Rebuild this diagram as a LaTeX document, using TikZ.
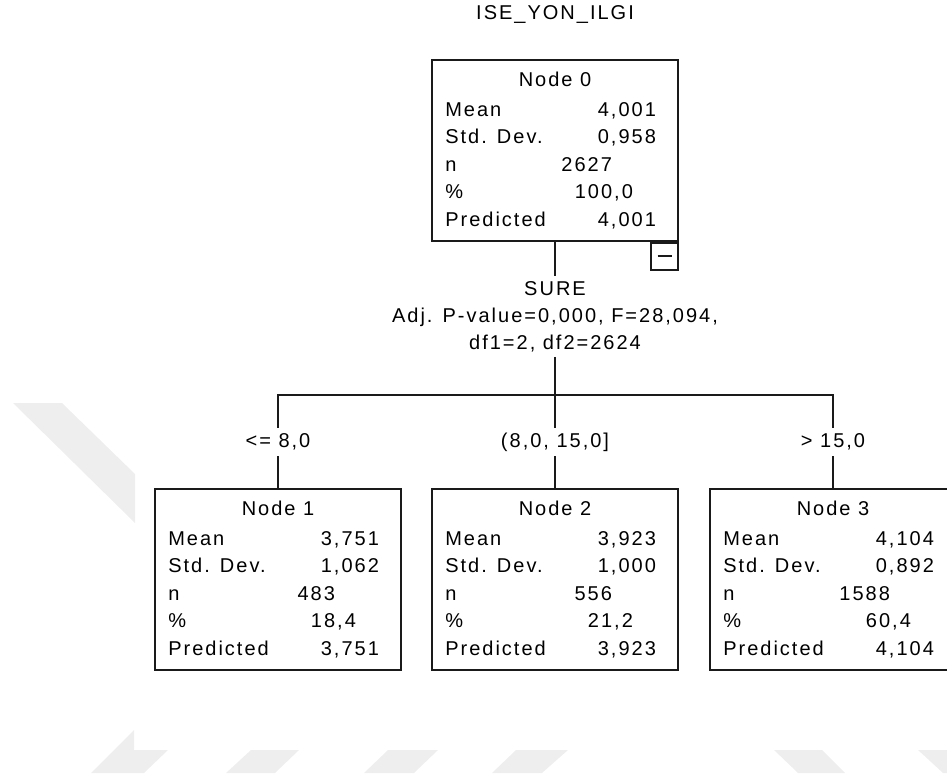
\documentclass[tikz,border=0pt]{standalone}
\usepackage{fontspec}
\setmainfont{Liberation Sans}[LetterSpace=10]
\usetikzlibrary{positioning, calc}
\definecolor{wmGray}{HTML}{EEEEEE}
\definecolor{lineDark}{HTML}{1A1A1A}
\tikzset{
  link/.style={draw=lineDark, line width=1.8pt},
  treebox/.style={rectangle, draw=lineDark, line width=1.8pt, fill=white,
                  minimum width=246pt, minimum height=181pt, inner sep=0pt},
  togbox/.style={rectangle, draw=lineDark, line width=1.8pt, fill=white,
                 minimum size=27pt, inner sep=0pt},
  hdr/.style={anchor=base, inner sep=0pt},
  rowlbl/.style={anchor=base west, inner sep=0pt},
  rowval/.style={anchor=base east, inner sep=0pt},
  cond/.style={inner sep=5pt, text height=14pt, text depth=4pt},
  split/.style={align=center, inner sep=5pt},
  wmark/.style={fill=wmGray, draw=none},
}

\begin{document}
\begin{tikzpicture}[x=1pt, y=-1pt, font=\fontsize{20}{27}\selectfont]
  \clip (0,0) rectangle (947,783);

  % faint watermark
  \fill[wmark] (13,403) -- (62,403) -- (135,474) -- (135,523) -- cycle;
  \fill[wmark] (91,773) -- (134,730) -- (134,750) -- (168,750) -- (144,773) -- cycle;
  \fill[wmark] (226,773) -- (251,750) -- (299,750) -- (275,773) -- cycle;
  \fill[wmark] (364,773) -- (388,750) -- (438,750) -- (414,773) -- cycle;
  \fill[wmark] (492,773) -- (516,750) -- (568,750) -- (542,773) -- cycle;
  \fill[wmark] (774,750) -- (822,750) -- (845,773) -- (798,773) -- cycle;
  \fill[wmark] (918,750) -- (970,750) -- (995,773) -- (943,773) -- cycle;

  % root
  \node (title) at (555,15) {ISE\_YON\_ILGI};
  \node[treebox] (n0) at (555,150.5) {};
  \node[togbox, anchor=north east] (tog) at (n0.south east) {};
  \draw[link] ([xshift=-7pt]tog.center) -- ([xshift=7pt]tog.center);

  % split
  \node[split, below=34pt of n0] (split)
       {SURE\\Adj. P-value=0,000, F=28,094,\\df1=2, df2=2624};
  \coordinate (bar) at (555,395);
  \draw[link] (n0) -- (split);
  \draw[link] (split) -- (bar);

  % conditions
  \node[cond] (c1) at (278,442) {<= 8,0};
  \node[cond] (c2) at (555,442) {(8,0, 15,0]};
  \node[cond] (c3) at (833,442) {> 15,0};
  \draw[link] (c1) |- (bar) -| (c3);
  \draw[link] (bar) -- (c2);

  % children
  \node[treebox, below=32pt of c1] (n1) {};
  \node[treebox, below=32pt of c2] (n2) {};
  \node[treebox, below=32pt of c3] (n3) {};
  \draw[link] (c1) -- (n1);
  \draw[link] (c2) -- (n2);
  \draw[link] (c3) -- (n3);

  % box contents
  \foreach \b/\ttl/\mn/\sd/\nn/\pc in {
      n0/Node 0/{4,001}/{0,958}/2627/{100,0},
      n1/Node 1/{3,751}/{1,062}/483/{18,4},
      n2/Node 2/{3,923}/{1,000}/556/{21,2},
      n3/Node 3/{4,104}/{0,892}/1588/{60,4}}{
    \node[hdr] (\b-t) at ($(\b.north)+(0,27)$) {\ttl};
    \node[rowlbl] (\b-l1) at ($(\b.north west)+(14,57)$) {Mean};
    \node[rowlbl] (\b-l2) at ($(\b.north west)+(14,84.5)$) {Std. Dev.};
    \node[rowlbl] (\b-l3) at ($(\b.north west)+(14,112)$) {n};
    \node[rowlbl] (\b-l4) at ($(\b.north west)+(14,139.5)$) {\%};
    \node[rowlbl] (\b-l5) at ($(\b.north west)+(14,167)$) {Predicted};
    \node[rowval] (\b-v1) at ($(\b.north west)+(225,57)$) {\mn};
    \node[rowval] (\b-v2) at ($(\b.north west)+(225,84.5)$) {\sd};
    \node[rowval] (\b-v3) at ($(\b.north west)+(181,112)$) {\nn};
    \node[rowval] (\b-v4) at ($(\b.north west)+(202,139.5)$) {\pc};
    \node[rowval] (\b-v5) at ($(\b.north west)+(225,167)$) {\mn};
  }
\end{tikzpicture}
\end{document}
